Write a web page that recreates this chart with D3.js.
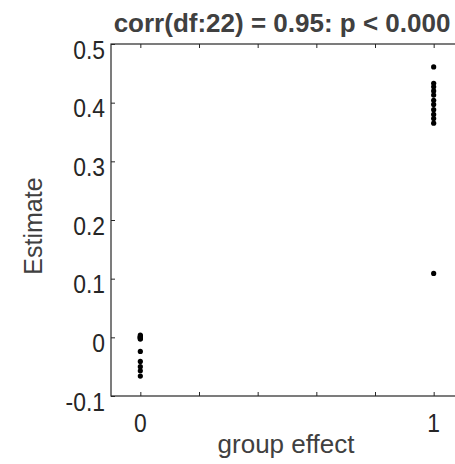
<!DOCTYPE html>
<html>
<head>
<meta charset="utf-8">
<script src="https://cdn.jsdelivr.net/npm/d3@7"></script>
<style>
  body { margin: 0; background: #fff; }
  svg { display: block; font-family: "Liberation Sans", Arial, sans-serif; }
</style>
</head>
<body>
<svg id="chart" width="455" height="464"></svg>
<script>
// group values (x) and estimates (y)
const groups = [0, 1];
const estimates0 = [0.004, 0.002, 0.001, 0.000, -0.001, -0.002, -0.003, -0.024, -0.041, -0.050, -0.057, -0.066];
const estimates1 = [0.461, 0.433, 0.427, 0.420, 0.413, 0.404, 0.397, 0.388, 0.380, 0.373, 0.365, 0.109];
const yTicks = [-0.1, 0, 0.1, 0.2, 0.3, 0.4, 0.5];
const xTicks = [0, 0.2, 0.4, 0.6, 0.8, 1];
const xLabelled = [0, 1];
const title = "corr(df:22) = 0.95: p < 0.000";

const points = [];
estimates0.forEach(v => points.push({ g: groups[0], v: v }));
estimates1.forEach(v => points.push({ g: groups[1], v: v }));

const svg = d3.select("#chart");
const plotLeft = 111, plotRight = 463, plotTop = 44, plotBottom = 396;

const x = d3.scaleLinear().domain([-0.1, 1.1]).range([plotLeft, plotRight]);
const y = d3.scaleLinear().domain([-0.1, 0.5]).range([plotBottom, plotTop]);

const axisColor = "#262626";
const labelColor = "#404040";

// box lines
svg.append("rect")
    .attr("x", plotLeft).attr("y", plotTop)
    .attr("width", plotRight - plotLeft).attr("height", plotBottom - plotTop)
    .attr("fill", "none")
    .attr("stroke", axisColor)
    .attr("stroke-width", 1.2);

// bottom ticks
svg.append("g")
    .attr("transform", `translate(0,${plotBottom})`)
    .call(d3.axisTop(x).tickValues(xTicks).tickSize(4).tickFormat(""))
    .call(g => g.select(".domain").remove())
    .call(g => g.selectAll("line").attr("stroke", axisColor));

// top ticks
svg.append("g")
    .attr("transform", `translate(0,${plotTop})`)
    .call(d3.axisBottom(x).tickValues(xTicks).tickSize(4).tickFormat(""))
    .call(g => g.select(".domain").remove())
    .call(g => g.selectAll("line").attr("stroke", axisColor));

// x tick labels (slightly narrow digits like the original)
svg.append("g")
    .selectAll("text")
    .data(xLabelled)
    .join("text")
    .attr("transform", d => `translate(${x(d)},${plotBottom + 36}) scale(0.88,1)`)
    .attr("text-anchor", "middle")
    .attr("fill", axisColor)
    .style("font-size", "26px")
    .text(d => d3.format("d")(d));

// y axis
svg.append("g")
    .attr("transform", `translate(${plotLeft},0)`)
    .call(d3.axisRight(y).tickValues(yTicks).tickSize(4).tickFormat(""))
    .call(g => g.select(".domain").remove())
    .call(g => g.selectAll("line").attr("stroke", axisColor));

svg.append("g")
    .selectAll("text")
    .data(yTicks)
    .join("text")
    .attr("transform", d => `translate(${plotLeft - 6},${y(d) + 14.5}) scale(0.88,1)`)
    .attr("text-anchor", "end")
    .attr("fill", axisColor)
    .style("font-size", "26px")
    .text(d => d === 0 ? "0" : d3.format(".1f")(d).replace("\u2212", "-"));

// points
svg.append("g")
    .selectAll("circle")
    .data(points)
    .join("circle")
    .attr("cx", d => x(d.g))
    .attr("cy", d => y(d.v))
    .attr("r", 2.6)
    .attr("fill", "#000");

// labels
svg.append("text")
    .attr("x", 282)
    .attr("y", 32)
    .attr("text-anchor", "middle")
    .attr("fill", labelColor)
    .style("font-size", "26px")
    .style("font-weight", "bold")
    .text(title);

svg.append("text")
    .attr("x", 286)
    .attr("y", 453)
    .attr("text-anchor", "middle")
    .attr("fill", labelColor)
    .style("font-size", "26px")
    .text("group effect");

svg.append("text")
    .attr("transform", `translate(42,226) rotate(-90)`)
    .attr("text-anchor", "middle")
    .attr("fill", labelColor)
    .style("font-size", "25px")
    .text("Estimate");
</script>
</body>
</html>
